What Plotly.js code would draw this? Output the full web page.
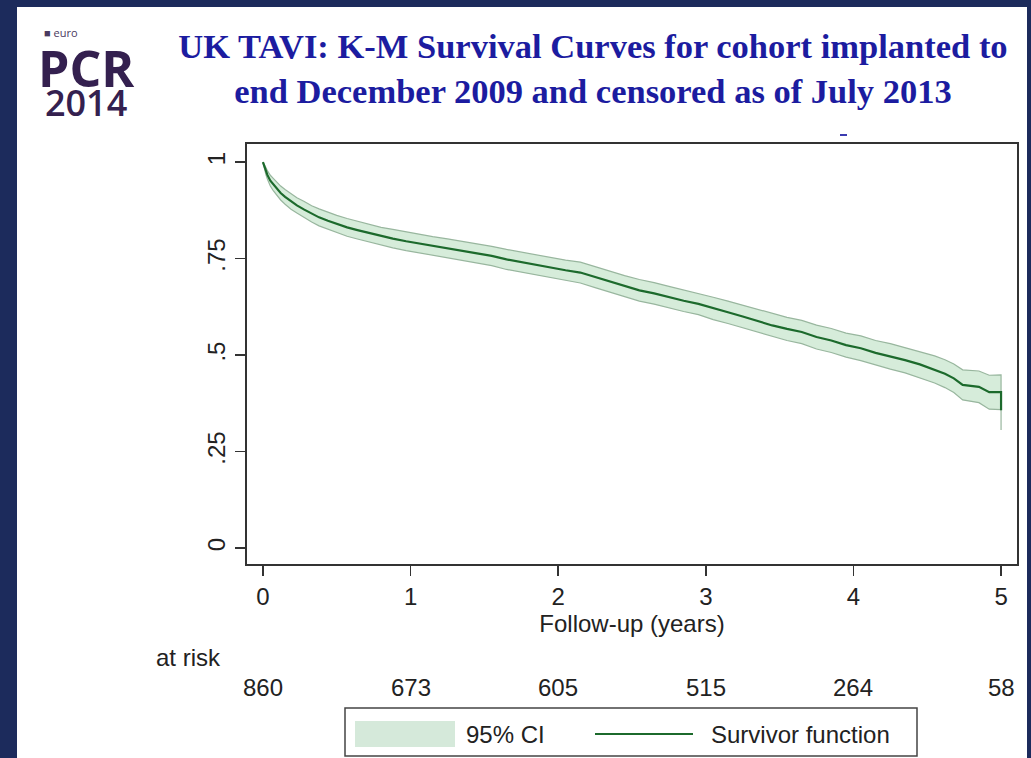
<!DOCTYPE html>
<html>
<head>
<meta charset="utf-8">
<script src="https://cdn.plot.ly/plotly-3.0.1.min.js"></script>
<style>html,body{margin:0;padding:0;background:#ffffff;}#chart{width:1031px;height:758px;}</style>
</head>
<body>
<div id="chart"></div>
<script>
// ---- data ----
const timeYears = [0, 0.01, 0.02, 0.03, 0.05, 0.07, 0.09, 0.12, 0.15, 0.19, 0.23, 0.28, 0.33, 0.38, 0.44, 0.5, 0.57, 0.64, 0.72, 0.8, 0.88, 0.97, 1.06, 1.15, 1.25, 1.35, 1.45, 1.55, 1.65, 1.75, 1.85, 1.95, 2.05, 2.15, 2.25, 2.35, 2.45, 2.55, 2.65, 2.75, 2.85, 2.95, 3.05, 3.15, 3.25, 3.35, 3.45, 3.55, 3.65, 3.75, 3.85, 3.95, 4.05, 4.15, 4.25, 4.35, 4.45, 4.55, 4.62, 4.68, 4.74, 4.85, 4.92, 5.0, 5.0];
const survival = [1.0, 0.988, 0.977, 0.967, 0.952, 0.942, 0.933, 0.920, 0.910, 0.898, 0.888, 0.877, 0.866, 0.857, 0.848, 0.840, 0.831, 0.824, 0.816, 0.808, 0.802, 0.795, 0.789, 0.783, 0.776, 0.770, 0.763, 0.757, 0.748, 0.741, 0.734, 0.726, 0.720, 0.714, 0.702, 0.690, 0.679, 0.668, 0.660, 0.650, 0.641, 0.633, 0.621, 0.611, 0.600, 0.588, 0.577, 0.568, 0.560, 0.547, 0.538, 0.526, 0.518, 0.506, 0.497, 0.487, 0.476, 0.463, 0.452, 0.440, 0.423, 0.418, 0.404, 0.404, 0.357];
const ciLower = [1.0, 0.982, 0.968, 0.956, 0.938, 0.926, 0.916, 0.902, 0.891, 0.878, 0.868, 0.856, 0.845, 0.835, 0.826, 0.818, 0.808, 0.801, 0.793, 0.785, 0.778, 0.771, 0.765, 0.759, 0.751, 0.745, 0.738, 0.732, 0.722, 0.715, 0.708, 0.700, 0.694, 0.687, 0.675, 0.663, 0.652, 0.640, 0.632, 0.622, 0.613, 0.605, 0.592, 0.582, 0.571, 0.558, 0.547, 0.538, 0.530, 0.516, 0.507, 0.495, 0.486, 0.474, 0.464, 0.454, 0.442, 0.428, 0.416, 0.403, 0.384, 0.377, 0.360, 0.359, 0.306];
const ciUpper = [1.0, 0.994, 0.986, 0.978, 0.966, 0.958, 0.950, 0.938, 0.929, 0.918, 0.908, 0.898, 0.887, 0.879, 0.870, 0.862, 0.854, 0.847, 0.839, 0.831, 0.826, 0.819, 0.813, 0.807, 0.801, 0.795, 0.788, 0.782, 0.774, 0.767, 0.760, 0.752, 0.746, 0.741, 0.729, 0.717, 0.706, 0.696, 0.688, 0.678, 0.669, 0.661, 0.650, 0.640, 0.629, 0.618, 0.607, 0.598, 0.590, 0.578, 0.569, 0.557, 0.550, 0.538, 0.530, 0.520, 0.510, 0.498, 0.488, 0.477, 0.462, 0.459, 0.448, 0.449, 0.400];
const xTickVals = [0, 1, 2, 3, 4, 5];
const yTickVals = [0, 0.25, 0.5, 0.75, 1];
const yTickText = ['0', '.25', '.5', '.75', '1'];
const atRisk = [860, 673, 605, 515, 264, 58];
const legendLabels = ['95% CI', 'Survivor function'];

// ---- layout helpers (pixel -> paper) ----
const W = 1031, H = 758;
const M = {l: 247, r: 14, t: 144, b: 194};
const PW = W - M.l - M.r, PH = H - M.t - M.b;
const px = v => (v - M.l) / PW;
const py = v => (H - M.b - v) / PH;

const GREEN = '#1c6a2c';
const CI_FILL = 'rgba(196,228,203,0.7)';
const CI_EDGE = '#98b69e';
const NAVY = '#1c2b5c';
const FONT = 'Arial, "Liberation Sans", sans-serif';

const traces = [
  {x: timeYears, y: ciLower, type: 'scatter', mode: 'lines', line: {shape: 'linear', color: CI_EDGE, width: 1.2}, showlegend: false, hoverinfo: 'skip'},
  {x: timeYears, y: ciUpper, type: 'scatter', mode: 'lines', line: {shape: 'linear', color: CI_EDGE, width: 1.2}, fill: 'tonexty', fillcolor: CI_FILL, name: legendLabels[0], showlegend: false},
  {x: timeYears, y: survival, type: 'scatter', mode: 'lines', line: {shape: 'linear', color: GREEN, width: 2.2}, name: legendLabels[1], showlegend: false}
];

const shapes = [
  // slide background border
  {type: 'rect', xref: 'paper', yref: 'paper', x0: px(0), x1: px(17), y0: py(H), y1: py(0), fillcolor: NAVY, line: {width: 0}},
  {type: 'rect', xref: 'paper', yref: 'paper', x0: px(0), x1: px(W), y0: py(7), y1: py(0), fillcolor: NAVY, line: {width: 0}},
  {type: 'rect', xref: 'paper', yref: 'paper', x0: px(1027), x1: px(W), y0: py(H), y1: py(0), fillcolor: NAVY, line: {width: 0}},
  // tiny blue dash
  {type: 'line', xref: 'paper', yref: 'paper', x0: px(840), x1: px(847), y0: py(135), y1: py(135), line: {color: '#3b3bb0', width: 2}},
  // legend box
  {type: 'rect', xref: 'paper', yref: 'paper', x0: px(345), x1: px(917), y0: py(756), y1: py(708), fillcolor: 'rgba(0,0,0,0)', line: {color: '#444', width: 1.5}},
  {type: 'rect', xref: 'paper', yref: 'paper', x0: px(355), x1: px(455), y0: py(747), y1: py(721), fillcolor: '#d5e9da', line: {width: 0}},
  {type: 'line', xref: 'paper', yref: 'paper', x0: px(595), x1: px(693), y0: py(734), y1: py(734), line: {color: GREEN, width: 2.2}}
];

const annotations = [
  {text: 'at risk', xref: 'paper', yref: 'paper', x: px(154), y: py(657), xanchor: 'left', yanchor: 'middle', showarrow: false, font: {family: FONT, size: 24, color: '#222'}},
  {text: legendLabels[0], xref: 'paper', yref: 'paper', x: px(464), y: py(734), xanchor: 'left', yanchor: 'middle', showarrow: false, font: {family: FONT, size: 24, color: '#222'}},
  {text: legendLabels[1], xref: 'paper', yref: 'paper', x: px(709), y: py(734), xanchor: 'left', yanchor: 'middle', showarrow: false, font: {family: FONT, size: 24, color: '#222'}},
  // logo
  {text: '■ euro', xref: 'paper', yref: 'paper', x: px(42), y: py(32), xanchor: 'left', yanchor: 'middle', showarrow: false, font: {family: '"Open Sans", sans-serif', size: 11, color: '#4a3a60'}},
  {text: '<span style="font-size:50px;font-weight:bold">PCR</span><br><span style="font-size:36px;font-weight:600">2014</span>', xref: 'paper', yref: 'paper', x: px(86), y: py(80), xanchor: 'center', yanchor: 'middle', align: 'center', showarrow: false, font: {family: '"Open Sans", sans-serif', size: 22, color: '#34204f'}}
];
atRisk.forEach((n, i) => {
  annotations.push({text: String(n), xref: 'x', yref: 'paper', x: xTickVals[i], y: py(687), xanchor: 'center', yanchor: 'middle', showarrow: false, font: {family: FONT, size: 24, color: '#222'}});
});

const layout = {
  width: W, height: H,
  margin: M,
  paper_bgcolor: '#ffffff',
  plot_bgcolor: '#ffffff',
  showlegend: false,
  title: {
    text: 'UK TAVI: K-M Survival Curves for cohort implanted to<br>end December 2009 and censored as of July 2013',
    xref: 'container', yref: 'container', x: 593 / W, y: 1 - 58 / H, xanchor: 'center', yanchor: 'middle',
    font: {family: '"Liberation Serif", "Times New Roman", serif', size: 34.5, color: '#1c1ca0', weight: 'bold'}
  },
  xaxis: {
    range: [-0.108, 5.108], tickvals: xTickVals, ticks: 'outside', ticklen: 10, tickwidth: 1.5, tickcolor: '#333',
    showline: true, mirror: true, linecolor: '#333', linewidth: 2, showgrid: false, zeroline: false,
    tickfont: {family: FONT, size: 24, color: '#222'},
    title: {text: 'Follow-up (years)', font: {family: FONT, size: 24, color: '#222'}, standoff: 0}
  },
  yaxis: {
    range: [-0.041, 1.047], tickvals: yTickVals, ticktext: yTickText, tickangle: -90, ticks: 'outside', ticklen: 10, tickwidth: 1.5, tickcolor: '#333',
    showline: true, mirror: true, linecolor: '#333', linewidth: 2, showgrid: false, zeroline: false,
    tickfont: {family: FONT, size: 24, color: '#222'}
  },
  shapes: shapes,
  annotations: annotations
};

Plotly.newPlot('chart', traces, layout, {displayModeBar: false, staticPlot: true});
</script>
</body>
</html>
